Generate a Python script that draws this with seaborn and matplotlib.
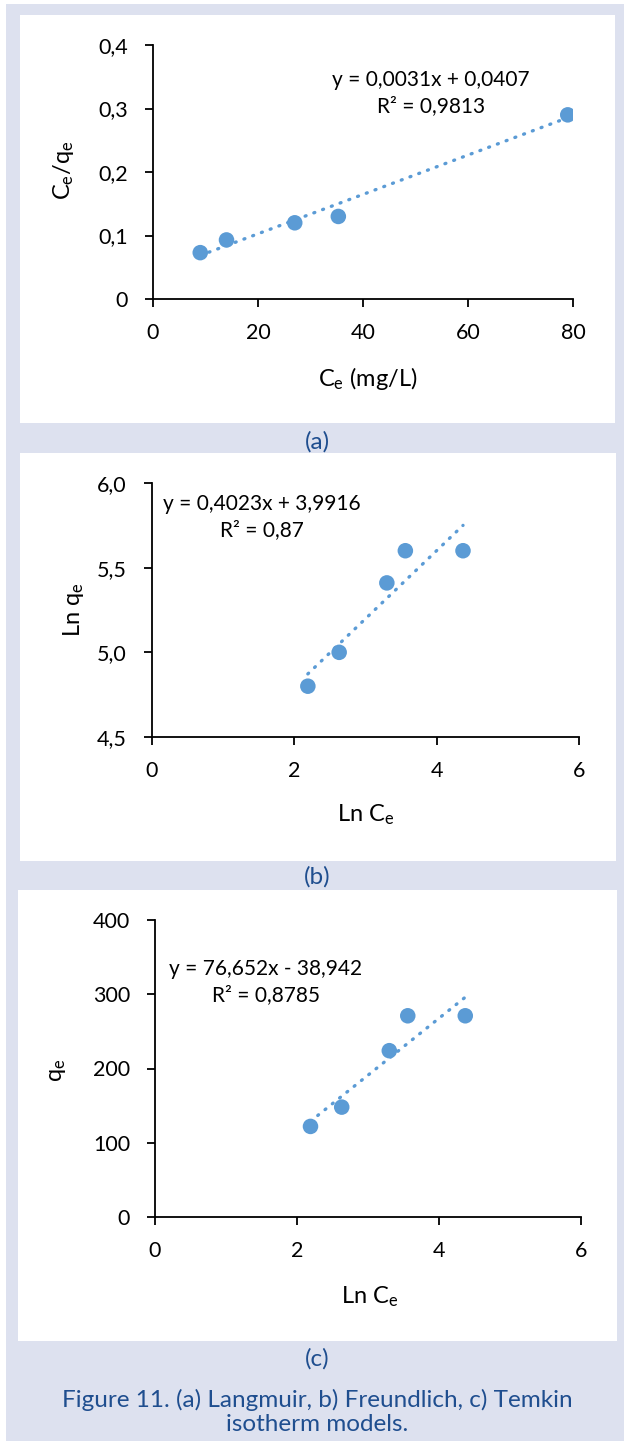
import numpy as np
import pandas as pd
import matplotlib
matplotlib.use("Agg")
import matplotlib.pyplot as plt
from matplotlib.patches import Rectangle
import seaborn as sns

# ---- data ----
lang_ce = [9.0, 14.0, 27.0, 35.3, 79.0]
lang_ceqe = [0.073, 0.093, 0.120, 0.130, 0.290]
lang_slope, lang_icpt = 0.0031, 0.0407

freu_lnce = [2.19, 2.63, 3.30, 3.56, 4.37]
freu_lnqe = [4.80, 5.00, 5.41, 5.60, 5.60]
freu_slope, freu_icpt = 0.4023, 3.9916

temk_lnce = [2.19, 2.63, 3.30, 3.56, 4.37]
temk_qe = [122, 148, 224, 271, 271]
temk_slope, temk_icpt = 76.652, -38.942

eq_texts = ["y = 0,0031x + 0,0407\nR² = 0,9813",
            "y = 0,4023x + 3,9916\nR² = 0,87",
            "y = 76,652x - 38,942\nR² = 0,8785"]
panel_labels = ["(a)", "(b)", "(c)"]
caption = "Figure 11. (a) Langmuir, b) Freundlich, c) Temkin\nisotherm models."

sns.set_theme(style="white")
plt.rcParams['font.family'] = ['Lato', 'DejaVu Sans']
plt.rcParams['mathtext.fontset'] = 'custom'
plt.rcParams['mathtext.rm'] = 'Lato'
plt.rcParams['mathtext.it'] = 'Lato:italic'

W, H = 624, 1441
fig = plt.figure(figsize=(W / 100, H / 100), dpi=100)
fig.patch.set_facecolor("white")

LAV = "#dde1ef"
BLUE = "#5b9bd5"
CAP = "#1f4e8f"

def frect(x0, y0, x1, y1, color):
    fig.patches.append(Rectangle((x0 / W, 1 - y1 / H), (x1 - x0) / W, (y1 - y0) / H,
                                 transform=fig.transFigure, facecolor=color,
                                 edgecolor="none", zorder=-10))

frect(6, 4, 624, 1441, LAV)
frect(20, 15, 615, 423, "white")
frect(20, 453, 616, 861, "white")
frect(18, 890, 617, 1341, "white")

def make_axes(l, r, t, b):
    return fig.add_axes([l / W, 1 - b / H, (r - l) / W, (b - t) / H])

def style(ax):
    ax.set_facecolor("none")
    for s in ["top", "right"]:
        ax.spines[s].set_visible(False)
    for s in ["left", "bottom"]:
        ax.spines[s].set_color("black")
        ax.spines[s].set_linewidth(1.3)
    ax.tick_params(axis="both", which="major", direction="out", length=6, width=1.3,
                   color="black", labelsize=15.5, left=True, bottom=True,
                   labelcolor="black")
    ax.tick_params(axis="x", pad=11)
    ax.tick_params(axis="y", pad=12)

def panel(ax, xs, ys, slope, icpt, xlim, ylim, xt, yt, yfmt, xlabel, ylabel,
          eq, eqpos, xlab_px, ylab_px):
    df = pd.DataFrame({"x": xs, "y": ys})
    xl = np.array([min(xs), max(xs)])
    tl = pd.DataFrame({"x": xl, "y": slope * xl + icpt})
    sns.lineplot(data=tl, x="x", y="y", ax=ax, color=BLUE, linewidth=2.4,
                 linestyle=(0, (0.3, 2.5)), dash_capstyle="round", zorder=2)
    sns.scatterplot(data=df, x="x", y="y", ax=ax, color=BLUE, s=125,
                    edgecolor="none", linewidth=0, zorder=3)
    ax.set_xlim(*xlim)
    ax.set_ylim(*ylim)
    ax.set_xticks(xt)
    ax.set_yticks(yt)
    ax.set_xticklabels([str(v) for v in xt])
    ax.set_yticklabels([yfmt(v) for v in yt])
    ax.set_xlabel(xlabel, fontsize=17, color="black")
    ax.set_ylabel(ylabel, fontsize=17, color="black")
    ax.xaxis.label.set_verticalalignment("center")
    ax.yaxis.label.set_verticalalignment("center")
    ax.xaxis.set_label_coords(xlab_px[0] / W, 1 - xlab_px[1] / H, transform=fig.transFigure)
    ax.yaxis.set_label_coords(ylab_px[0] / W, 1 - ylab_px[1] / H, transform=fig.transFigure)
    style(ax)
    ax.text(eqpos[0], eqpos[1], eq, fontsize=15, ha="center", va="center",
            linespacing=1.4, color="black")

ax1 = make_axes(153, 573, 45, 299)
panel(ax1, lang_ce, lang_ceqe, lang_slope, lang_icpt, (0, 80), (0, 0.4),
      [0, 20, 40, 60, 80], [0, 0.1, 0.2, 0.3, 0.4],
      lambda v: "0" if v == 0 else f"{v:.1f}".replace(".", ","),
      "C$_\\mathrm{e}$ (mg/L)", "C$_\\mathrm{e}$/q$_\\mathrm{e}$",
      eq_texts[0], (52.9, 0.324), (368, 378), (64, 170))

ax2 = make_axes(152, 579, 483, 737)
panel(ax2, freu_lnce, freu_lnqe, freu_slope, freu_icpt, (0, 6), (4.5, 6.0),
      [0, 2, 4, 6], [4.5, 5.0, 5.5, 6.0],
      lambda v: f"{v:.1f}".replace(".", ","),
      "Ln C$_\\mathrm{e}$", "Ln q$_\\mathrm{e}$",
      eq_texts[1], (1.55, 5.80), (366, 815), (74, 610))

ax3 = make_axes(155, 581, 920, 1217)
panel(ax3, temk_lnce, temk_qe, temk_slope, temk_icpt, (0, 6), (0, 400),
      [0, 2, 4, 6], [0, 100, 200, 300, 400],
      lambda v: str(v),
      "Ln C$_\\mathrm{e}$", "q$_\\mathrm{e}$",
      eq_texts[2], (1.56, 316), (370, 1297), (58, 1070))

for lab, y in zip(panel_labels, [442, 877, 1359]):
    fig.text(317 / W, 1 - y / H, lab, fontsize=17.5, color=CAP, ha="center", va="center")
fig.text(317 / W, 1 - 1412 / H, caption, fontsize=17.5, color=CAP, ha="center",
         va="center", linespacing=1.2)

fig.savefig("out.png", dpi=100)
